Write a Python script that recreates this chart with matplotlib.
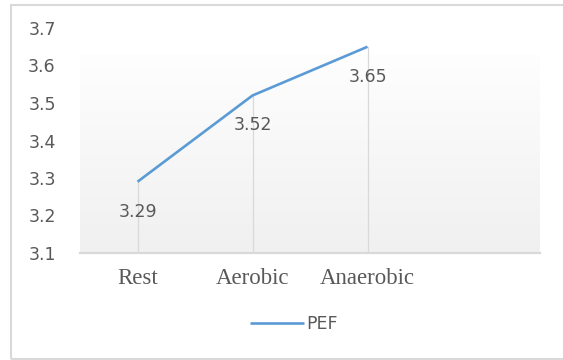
import numpy as np
import matplotlib
matplotlib.use("Agg")
import matplotlib.pyplot as plt
from matplotlib.patches import Rectangle
from matplotlib.colors import LinearSegmentedColormap

# data
categories = ["Rest", "Aerobic", "Anaerobic", ""]
pef_values = [3.29, 3.52, 3.65]
y_ticks = [3.1, 3.2, 3.3, 3.4, 3.5, 3.6, 3.7]
series_name = "PEF"

line_color = "#5b9bd5"
grid_color = "#d9d9d9"
text_color = "#595959"

fig = plt.figure(figsize=(5.63, 3.6), dpi=100)
fig.patch.set_facecolor("white")

# outer chart border (right edge cut off in the original)
fig.patches.append(Rectangle((11 / 563, 1 / 360), 1.0, 354 / 360,
                             transform=fig.transFigure, fill=False,
                             edgecolor=grid_color, linewidth=1.5))

ax = fig.add_axes([80 / 563, 1 - 253 / 360, 460 / 563, 225 / 360])
ax.set_facecolor("none")

x = np.arange(len(categories))
ax.set_xlim(-0.5, len(categories) - 0.5)
ax.set_ylim(y_ticks[0], y_ticks[-1])

# plot-area gradient: white at top to light grey at bottom
grad = np.linspace(0, 1, 256).reshape(-1, 1)
cmap = LinearSegmentedColormap.from_list("bg", ["#f0f0f0", "#fefefe"])
ax.imshow(grad, cmap=cmap, aspect="auto", origin="lower",
          extent=[-0.51, len(categories) - 0.5, y_ticks[0], 3.628],
          zorder=0)

# drop lines
for xi, v in zip(x, pef_values):
    ax.plot([xi, xi], [y_ticks[0], v], color=grid_color, lw=0.9, zorder=1)

ax.plot(x[:len(pef_values)], pef_values, color=line_color, lw=1.9,
        solid_capstyle="butt", zorder=3, label=series_name)

for xi, v in zip(x, pef_values):
    ax.annotate(f"{v:.2f}", (xi, v), xytext=(0, -30), textcoords="offset pixels",
                ha="center", va="center", fontsize=12.5, color=text_color,
                family="DejaVu Sans", zorder=4)

for side in ["top", "right", "left"]:
    ax.spines[side].set_visible(False)
ax.spines["bottom"].set_color(grid_color)
ax.spines["bottom"].set_linewidth(1.6)

ax.set_yticks(y_ticks)
ax.set_yticklabels([f"{t:.1f}" for t in y_ticks], fontsize=12.5, color=text_color)
ax.set_xticks(x)
ax.set_xticklabels(categories, fontsize=16.5, color=text_color, family="Liberation Serif")
ax.tick_params(axis="both", length=0)
ax.tick_params(axis="y", pad=17.5)
ax.tick_params(axis="x", pad=11)

fig.legend(loc="center", bbox_to_anchor=(294 / 563, 1 - 324 / 360), frameon=False,
           fontsize=12.5, handlelength=3.1, handletextpad=0.15,
           labelcolor=text_color)

fig.savefig("out.png", dpi=100, facecolor="white")
